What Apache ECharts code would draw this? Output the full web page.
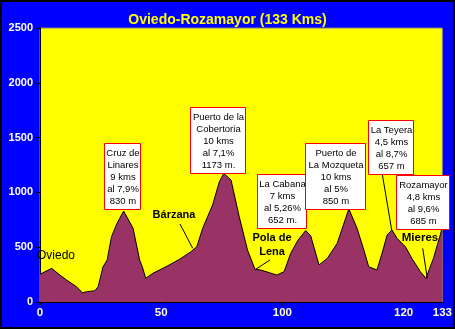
<!DOCTYPE html>
<html><head><meta charset="utf-8">
<script src="https://cdn.jsdelivr.net/npm/echarts@6/dist/echarts.min.js"></script>
<style>html,body{margin:0;padding:0;background:#0000ff;}#c{width:455px;height:329px;}</style>
</head><body><div id="c"></div>
<script>
// Position along the (non-linear) distance axis, as drawn
const distPos = [0,4.8,8.2,11,15,17.5,19.5,22.6,24,26,27.7,29.5,31.8,34.5,38.4,41.1,42.2,43.6,46.6,52,57.5,62.3,64.7,67.1,71.2,74,75.8,78.8,82.2,85.6,88.7,91.1,94.5,97.7,100.7,103.4,106.5,109.6,111.7,115.1,118.5,122.6,127.4,130.8,133.6,135.6,139,141.1,143.2,145.2,147.3,150.7,153.4,156.9,159.2,162.3,165.1,166];
// Altitude in metres
const altitude = [253,307,246,200,140,85,94,103,140,322,383,596,718,830,672,383,322,216,262,322,389,459,505,672,885,1098,1173,1113,778,474,298,292,268,246,277,444,566,652,602,338,398,535,850,672,474,322,292,444,611,657,581,505,398,277,216,398,611,685];
// x tick positions and their labels (km)
const xTickPos = [0,50,100,150,166];
const xTickLabels = ['0','50','100','120','133'];

const title = 'Oviedo-Rozamayor (133 Kms)';
const climbs = [
  ['Cruz de','Linares','9 kms','al 7,9%','830 m'],
  ['Puerto de la','Cobertoria','10 kms','al 7,1%','1173 m.'],
  ['La Cabana','7 kms','al 5,26%','652 m.'],
  ['Puerto de','La Mozqueta','10 kms','al 5%','850 m'],
  ['La Teyera','4,5 kms','al 8,7%','657 m'],
  ['Rozamayor','4,8 kms','al 9,6%','685 m']
];
const towns = ['Oviedo','Bárzana','Pola de\nLena','Mieres'];

// annotation layout (pixels)
const boxRects = [[104,143,36,66],[190,107,55,66],[257,174,49,54],[305,143,60,66],[368,120,45,54],[396,175,53,54]];
const townPos = [[37,256,'left','normal',12],[174,215,'center','bold',11],[272,245,'center','bold',11],[420,238,'center','bold',11.5]];
const leaders = [[180,224,192.7,248.3],[255.7,269.3,270,260],[382.3,174.3,391.7,230],[422.7,248.3,427.3,278.3]];

const chart = echarts.init(document.getElementById('c'));
const data = distPos.map((x,i)=>[x,altitude[i]]);
const labelMap = {}; xTickPos.forEach((p,i)=>labelMap[p]=xTickLabels[i]);

const graphics = [];
leaders.forEach(l=>graphics.push({type:'line',shape:{x1:l[0],y1:l[1],x2:l[2],y2:l[3]},style:{stroke:'#000',lineWidth:1},z:50}));
townPos.forEach((t,i)=>graphics.push({type:'text',x:t[0],y:t[1],style:{text:towns[i],fill:'#000',font:t[3]+' '+t[4]+'px Arial',textAlign:t[2],textVerticalAlign:'middle',lineHeight:14},z:50}));
boxRects.forEach((b,i)=>{
  graphics.push({type:'rect',shape:{x:b[0]+0.5,y:b[1]+0.5,width:b[2],height:b[3]},style:{fill:'#fff',stroke:'#ff0000',lineWidth:1},z:60+i*2});
  graphics.push({type:'text',x:b[0]+b[2]/2+1,y:b[1]+b[3]/2+1,style:{text:climbs[i].join('\n'),fill:'#000',font:'9.5px Arial',textAlign:'center',textVerticalAlign:'middle',lineHeight:12},z:61+i*2});
});
graphics.push({type:'rect',shape:{x:1,y:1,width:453,height:327},style:{fill:'none',stroke:'#000',lineWidth:2},z:100});

chart.setOption({
  backgroundColor:'#0000ff',
  animation:false,
  title:{text:title,left:'center',top:8,textStyle:{color:'#ffff00',fontFamily:'Arial',fontWeight:'bold',fontSize:14}},
  grid:{left:40,right:11,top:28,bottom:27,show:true,backgroundColor:'#ffff00',borderColor:'#808080',borderWidth:1},
  xAxis:{type:'value',min:0,max:166,
    axisLine:{show:true,onZero:false,lineStyle:{color:'#000',width:1}},
    axisTick:{show:true,length:3,customValues:xTickPos.slice(0,4),lineStyle:{color:'#000'}},
    axisLabel:{customValues:xTickPos,formatter:v=>labelMap[v]??'',color:'#ffffcc',fontFamily:'Arial',fontWeight:'bold',fontSize:11.5,margin:5},
    splitLine:{show:false}},
  yAxis:{type:'value',min:0,max:2500,interval:500,
    axisLine:{show:true,lineStyle:{color:'#000',width:1}},
    axisTick:{show:true,length:4,lineStyle:{color:'#000'}},
    axisLabel:{color:'#ffffff',fontFamily:'Arial',fontWeight:'bold',fontSize:11,margin:7,formatter:v=>String(v)},
    splitLine:{show:false}},
  series:[{type:'line',data:data,symbol:'none',smooth:false,
    lineStyle:{color:'#000',width:1},areaStyle:{color:'#993366',opacity:1},z:3}],
  graphic:graphics
});
</script></body></html>
